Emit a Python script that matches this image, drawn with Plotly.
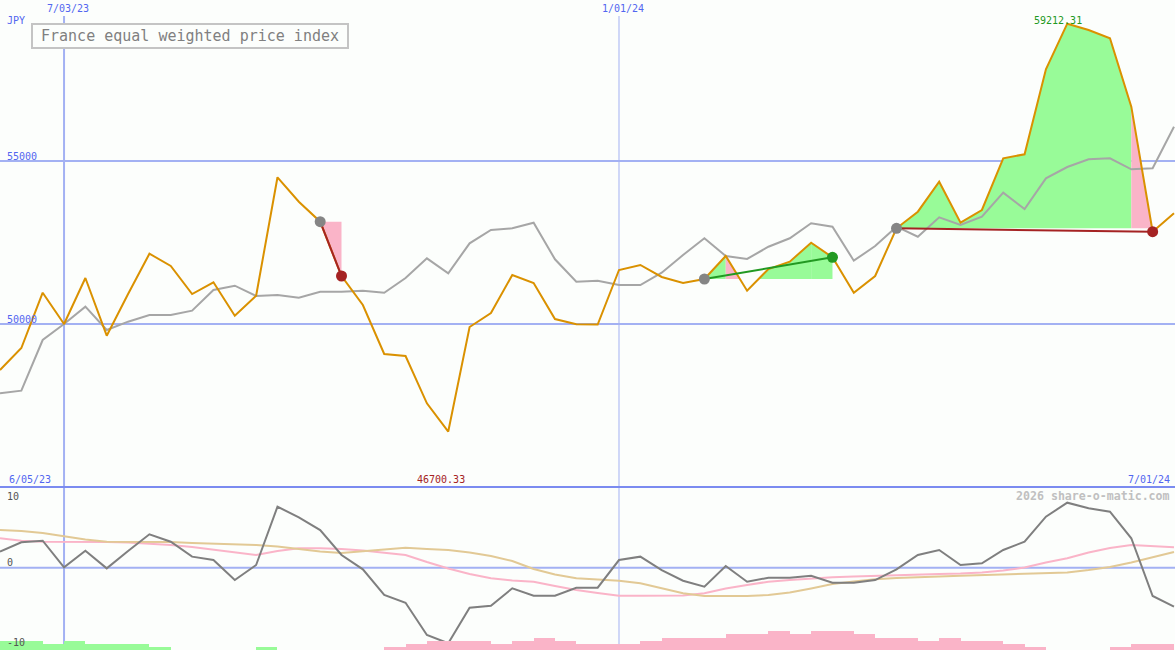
import plotly.graph_objects as go
from datetime import datetime, timedelta

# ---------------- data ----------------
dates = [
    "2023-06-12", "2023-06-19", "2023-06-26", "2023-07-03", "2023-07-10", "2023-07-17",
    "2023-07-24", "2023-07-31", "2023-08-07", "2023-08-14", "2023-08-21", "2023-08-28",
    "2023-09-04", "2023-09-11", "2023-09-18", "2023-09-25", "2023-10-02", "2023-10-09",
    "2023-10-16", "2023-10-23", "2023-10-30", "2023-11-06", "2023-11-13", "2023-11-20",
    "2023-11-27", "2023-12-04", "2023-12-11", "2023-12-18", "2023-12-25", "2024-01-01",
    "2024-01-08", "2024-01-15", "2024-01-22", "2024-01-29", "2024-02-05", "2024-02-12",
    "2024-02-19", "2024-02-26", "2024-03-04", "2024-03-11", "2024-03-18", "2024-03-25",
    "2024-04-01", "2024-04-08", "2024-04-15", "2024-04-22", "2024-04-29", "2024-05-06",
    "2024-05-13", "2024-05-20", "2024-05-27", "2024-06-03", "2024-06-10", "2024-06-17",
    "2024-06-24", "2024-07-01",
]

price = [
    48589, 49264, 50960, 50000, 51411, 49641, 50920, 52156, 51779, 50920,
    51279, 50255, 50868, 54500, 53752, 53138, 51472, 50583, 49080, 49018,
    47567, 46700.33, 49908, 50337, 51503, 51258, 50153, 49991, 49985, 51656,
    51810, 51442, 51258, 51380, 52086, 51021, 51687, 51911, 52494, 52046,
    50960, 51472, 52936, 53445, 54365, 53107, 53497, 55083, 55206, 57813,
    59212.31, 59018, 58764, 56666, 52831, 53396,
]

moving_avg = [
    47874, 47954, 49509, 50000, 50531, 49816, 50071, 50276, 50276, 50408,
    51043, 51175, 50859, 50890, 50807, 50991, 50991, 51021, 50960, 51411,
    52015, 51555, 52475, 52883, 52936, 53107, 51985, 51298, 51328, 51196,
    51196, 51574, 52117, 52629, 52086, 51994, 52371, 52629, 53089, 52985,
    51942, 52393, 52985, 52678, 53273, 53037, 53291, 54028, 53528, 54469,
    54816, 55052, 55083, 54745, 54776, 56052,
]

oscillator = [
    2.0, 3.18, 3.38, 0.05, 2.13, -0.08, 2.09, 4.18, 3.25, 1.38, 0.96, -1.54, 0.34,
    7.63, 6.3, 4.71, 1.59, -0.2, -3.41, -4.38, -8.41, -9.45, -5.0,
    -4.75, -2.58, -3.5, -3.5, -2.5, -2.5, 0.96, 1.38, -0.29, -1.63,
    -2.38, 0.21, -1.75, -1.25, -1.25, -1.0, -1.88, -1.88, -1.54, -0.2,
    1.59, 2.21, 0.34, 0.55, 2.21, 3.25, 6.38, 8.13, 7.43, 7.0,
    3.68, -3.54, -4.88,
]

osc_fast = [
    3.68, 3.38, 3.25, 3.25, 3.25, 3.21, 3.15, 3.03, 2.84, 2.59, 2.28, 1.96, 1.59,
    2.09, 2.43, 2.43, 2.34, 2.15, 1.9, 1.59, 0.71, -0.1, -0.79,
    -1.33, -1.6, -1.75, -2.29, -2.79, -3.16, -3.5, -3.5, -3.5, -3.48,
    -3.2, -2.6, -2.16, -1.75, -1.54, -1.35, -1.2, -1.1, -1.0, -0.91,
    -0.83, -0.79, -0.73, -0.6, -0.35, 0.03, 0.65, 1.18, 1.9, 2.46,
    2.84, 2.71, 2.55,
]

osc_slow = [
    4.71, 4.59, 4.34, 3.96, 3.53, 3.25, 3.25, 3.25, 3.21, 3.09, 3.03, 2.96, 2.84,
    2.65, 2.34, 2.03, 1.84, 2.09, 2.34, 2.5, 2.34, 2.21, 1.9,
    1.46, 0.84, -0.16, -0.85, -1.33, -1.48, -1.63, -1.95, -2.6, -3.2,
    -3.54, -3.54, -3.54, -3.41, -3.1, -2.6, -2.04, -1.73, -1.45, -1.29,
    -1.16, -1.1, -1.0, -0.91, -0.85, -0.79, -0.73, -0.6, -0.29, 0.09,
    0.65, 1.34, 1.96,
]

# signed weekly histogram (positive = green, negative = pink)
histogram = [
    3, 3, 2, 3, 2, 2, 2, 1, 0, 0, 0, 0, 1,
    0, 0, 0, 0, 0, -1, -2, -3, -3, -3,
    -2, -3, -4, -3, -2, -2, -2, -3, -4, -4,
    -4, -5, -5, -6, -5, -6, -6, -5, -4, -4,
    -3, -4, -3, -3, -2, -1, 0, 0, 0, -1,
    -2, -2, 0,
]

# trades: entry/exit positions in the weekly series
trade_entry = [15, 33, 42]
trade_exit = [16, 39, 54]
trade_outcome = ["loss", "win", "loss"]
trade_segment_colors = [
    ["pink"],
    ["green", "pink", "green", "green", "green", "green"],
    ["green"] * 11 + ["pink"],
]

title_text = "France equal weighted price index"

# ---------------- styling ----------------
W, H = 1175, 650
BG = "#fcfefc"
GRID = "#a3b1f3"
SEP = "#7b8bf0"
LABEL_BLUE = "#5266f0"
ORANGE = "#da9100"
MA_GRAY = "#a6a6a6"
OSC_GRAY = "#7f7f7f"
FILL_GREEN = "#98fb98"
FILL_PINK = "#fab4c8"
TAN = "#e2c995"
DARK_RED = "#a52323"
DARK_GREEN = "#229922"
FONT = "DejaVu Sans Mono"
FILLS = {"green": FILL_GREEN, "pink": FILL_PINK}

TOP_DOMAIN = 1 - 487 / H
start = datetime.fromisoformat(dates[0])


def fdate(fi):
    return start + timedelta(days=7 * fi)


fig = go.Figure()


def add_poly(pts, color):
    fig.add_trace(go.Scatter(
        x=[fdate(p[0]) for p in pts], y=[p[1] for p in pts],
        fill="toself", fillcolor=color, mode="lines", line=dict(width=0),
        hoverinfo="skip", showlegend=False, xaxis="x", yaxis="y"))


def clipped_run(i0, i1, b):
    pts = [(i0, b)]
    for i in range(i0, i1 + 1):
        if i > i0:
            pa, pb = price[i - 1], price[i]
            if (pa - b) * (pb - b) < 0:
                t = (b - pa) / (pb - pa)
                pts.append((i - 1 + t, b))
        pts.append((i, max(price[i], b)))
    pts.append((i1, b))
    return pts


# trade fills
for e, x_, cols in zip(trade_entry, trade_exit, trade_segment_colors):
    b = price[e]
    segs = list(range(e, x_))
    run_start = None
    run_col = None
    for j, s in enumerate(segs[:-1]):
        c = cols[j]
        if run_col is None:
            run_start, run_col = s, c
        elif c != run_col:
            add_poly(clipped_run(run_start, s, b), FILLS[run_col])
            run_start, run_col = s, c
    if run_col is not None:
        add_poly(clipped_run(run_start, segs[-1], b), FILLS[run_col])
    s = segs[-1]
    add_poly([(s, b), (s, price[s]), (s + 1, price[s + 1]), (s + 1, b)], FILLS[cols[-1]])

# moving average and price
fig.add_trace(go.Scatter(x=dates, y=moving_avg, mode="lines",
                         line=dict(color=MA_GRAY, width=2), hoverinfo="skip",
                         showlegend=False, xaxis="x", yaxis="y"))
fig.add_trace(go.Scatter(x=dates, y=price, mode="lines",
                         line=dict(color=ORANGE, width=2), hoverinfo="skip",
                         showlegend=False, xaxis="x", yaxis="y"))

# trade lines and markers
for e, x_, out in zip(trade_entry, trade_exit, trade_outcome):
    col = DARK_GREEN if out == "win" else DARK_RED
    fig.add_trace(go.Scatter(x=[dates[e], dates[x_]], y=[price[e], price[x_]],
                             mode="lines", line=dict(color=col, width=2),
                             hoverinfo="skip", showlegend=False, xaxis="x", yaxis="y"))
    fig.add_trace(go.Scatter(x=[dates[e]], y=[price[e]], mode="markers",
                             marker=dict(color="#858585", size=11, line=dict(width=0)),
                             hoverinfo="skip", showlegend=False, xaxis="x", yaxis="y"))
    fig.add_trace(go.Scatter(x=[dates[x_]], y=[price[x_]], mode="markers",
                             marker=dict(color=col, size=11, line=dict(width=0)),
                             hoverinfo="skip", showlegend=False, xaxis="x", yaxis="y"))

# bottom panel: histogram bars
bar_colors = [FILL_GREEN if v > 0 else FILL_PINK for v in histogram]
fig.add_trace(go.Bar(x=dates, y=[abs(v) for v in histogram],
                     marker=dict(color=bar_colors, line=dict(width=0)),
                     offset=0, width=7 * 86400000, hoverinfo="skip", showlegend=False,
                     xaxis="x2", yaxis="y3"))
fig.add_trace(go.Scatter(x=dates, y=osc_fast, mode="lines", line=dict(color=FILL_PINK, width=2),
                         hoverinfo="skip", showlegend=False, xaxis="x2", yaxis="y2"))
fig.add_trace(go.Scatter(x=dates, y=osc_slow, mode="lines", line=dict(color=TAN, width=2),
                         hoverinfo="skip", showlegend=False, xaxis="x2", yaxis="y2"))
fig.add_trace(go.Scatter(x=dates, y=oscillator, mode="lines", line=dict(color=OSC_GRAY, width=2),
                         hoverinfo="skip", showlegend=False, xaxis="x2", yaxis="y2"))

# ---------------- shapes ----------------
shapes = []
for lvl in (50000, 55000):
    shapes.append(dict(type="line", xref="paper", yref="y", x0=0, x1=1, y0=lvl, y1=lvl,
                       line=dict(color=GRID, width=2), layer="below"))
shapes.append(dict(type="line", xref="paper", yref="y2", x0=0, x1=1, y0=0, y1=0,
                   line=dict(color=GRID, width=2), layer="below"))
shapes.append(dict(type="line", xref="x", yref="paper", x0="2023-07-03", x1="2023-07-03",
                   y0=0, y1=1 - 16 / H, line=dict(color=GRID, width=2), layer="below"))
shapes.append(dict(type="line", xref="x", yref="paper", x0="2024-01-01", x1="2024-01-01",
                   y0=0, y1=1 - 16 / H, line=dict(color=GRID, width=1), layer="below"))
shapes.append(dict(type="line", xref="paper", yref="paper", x0=0, x1=1,
                   y0=TOP_DOMAIN, y1=TOP_DOMAIN, line=dict(color=SEP, width=2)))
shapes.append(dict(type="rect", xref="paper", yref="paper",
                   x0=32 / W, x1=348 / W, y0=1 - 48 / H, y1=1 - 24 / H,
                   line=dict(color="#c4c4c4", width=2), fillcolor=BG))

# ---------------- text ----------------
annotations = []


def ann(text, px, py, color, size=10, xanchor="left", bold=False):
    annotations.append(dict(
        text=f"<b>{text}</b>" if bold else text, xref="paper", yref="paper",
        x=px / W, y=1 - py / H, xanchor=xanchor, yanchor="middle", showarrow=False,
        font=dict(family=FONT, size=size, color=color)))


ann("JPY", 5, 21, LABEL_BLUE)
ann("7/03/23", 68, 9, LABEL_BLUE, xanchor="center")
ann("1/01/24", 623, 9, LABEL_BLUE, xanchor="center")
ann("55000", 5, 156, LABEL_BLUE)
ann("50000", 5, 319, LABEL_BLUE)
ann(f"{max(price):.2f}", 1058, 21, DARK_GREEN, xanchor="center")
ann(f"{min(price):.2f}", 415, 479, DARK_RED)
ann("6/05/23", 7, 479, LABEL_BLUE)
ann("7/01/24", 1172, 479, LABEL_BLUE, xanchor="right")
ann("10", 5, 496, "#555555")
ann("0", 5, 562, "#555555")
ann("-10", 5, 642, "#555555")
ann("2026 share-o-matic.com", 1172, 496, "#c0c0c0", size=11.6, xanchor="right", bold=True)
ann(title_text, 190, 36.5, "#808080", size=15, xanchor="center")

fig.update_layout(
    width=W, height=H,
    margin=dict(l=0, r=0, t=0, b=0),
    paper_bgcolor=BG, plot_bgcolor=BG,
    showlegend=False,
    xaxis=dict(type="date", range=[start, start + timedelta(days=385.33)], domain=[0, 1],
               anchor="y", visible=False, fixedrange=True),
    xaxis2=dict(type="date", matches="x", anchor="y2", domain=[0, 1], visible=False),
    yaxis=dict(domain=[TOP_DOMAIN, 1], range=[45000, 59938.6], visible=False),
    yaxis2=dict(domain=[0, TOP_DOMAIN], range=[-10.29, 10.09], visible=False, anchor="x2"),
    yaxis3=dict(overlaying="y2", range=[0, 52.5], visible=False, anchor="x2"),
    shapes=shapes,
    annotations=annotations,
    bargap=0,
)

fig.write_html(
    "out.html",
    config={"displayModeBar": False},
    post_script="document.body.style.margin='0';document.body.style.overflow='hidden';",
)
